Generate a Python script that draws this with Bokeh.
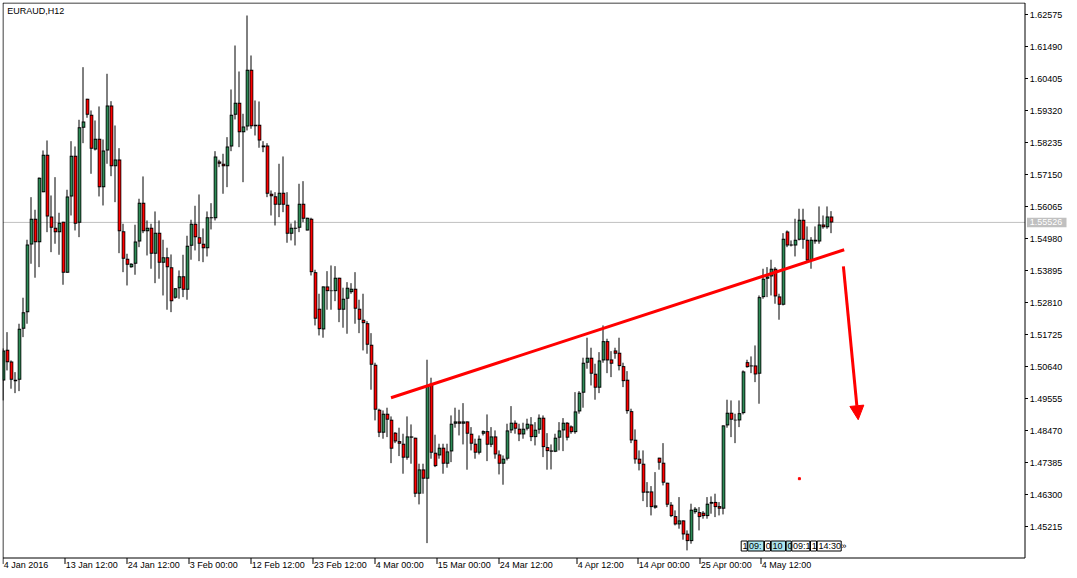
from bokeh.plotting import figure
from bokeh.models import ColumnDataSource, Range1d, Arrow, NormalHead
from bokeh.core.properties import value
from bokeh.embed import file_html
from bokeh.resources import INLINE

FONT = "Liberation Sans"

symbol_title = "EURAUD,H12"

opens = [1.50166, 1.51209, 1.50812, 1.50144, 1.50192, 1.51921, 1.52483, 1.54778, 1.55650, 1.54856,
         1.56551, 1.57819, 1.55728, 1.55345, 1.55195, 1.55548, 1.53819, 1.56406, 1.57785, 1.55514,
         1.58735, 1.59718, 1.59175, 1.57999, 1.58362, 1.56721, 1.57965, 1.59490, 1.57433, 1.57660,
         1.55229, 1.54294, 1.54009, 1.54124, 1.54880, 1.56192, 1.55229, 1.55345, 1.54463, 1.55175,
         1.54158, 1.54348, 1.54009, 1.52972, 1.53297, 1.53704, 1.53243, 1.54734, 1.55480, 1.55026,
         1.54802, 1.54653, 1.55670, 1.55670, 1.57592, 1.57514, 1.57433, 1.58101, 1.59175, 1.59582,
         1.58585, 1.58779, 1.60701, 1.58836, 1.58836, 1.58134, 1.58134, 1.56497, 1.56416, 1.56124,
         1.56531, 1.56124, 1.55141, 1.55311, 1.55345, 1.56158, 1.55253, 1.55650, 1.53839, 1.52599,
         1.51897, 1.53355, 1.53195, 1.53195, 1.53650, 1.52565, 1.52938, 1.53161, 1.53277, 1.52599,
         1.52226, 1.52110, 1.51378, 1.50700, 1.49175, 1.48395, 1.49039, 1.48836, 1.48395, 1.48110,
         1.48022, 1.47548, 1.48270, 1.48226, 1.46327, 1.47151, 1.46836, 1.50056, 1.47717, 1.47625,
         1.47887, 1.47344, 1.47761, 1.48700, 1.48778, 1.48700, 1.48778, 1.48361, 1.48022, 1.47717,
         1.48361, 1.48449, 1.47988, 1.48270, 1.47659, 1.47344, 1.47514, 1.48473, 1.48734, 1.48531,
         1.48337, 1.48531, 1.48676, 1.48246, 1.48497, 1.48904, 1.47907, 1.47795, 1.47751, 1.48226,
         1.48473, 1.48734, 1.48609, 1.48415, 1.49117, 1.49751, 1.50768, 1.50938, 1.50395, 1.49921,
         1.50846, 1.51500, 1.50880, 1.51185, 1.51107, 1.50653, 1.50192, 1.49127, 1.48158, 1.47514,
         1.47344, 1.46405, 1.46405, 1.45853, 1.47548, 1.47378, 1.46700, 1.45954, 1.45568, 1.45286,
         1.45422, 1.44971, 1.44720, 1.45703, 1.45703, 1.45683, 1.45568, 1.45988, 1.46049, 1.45907,
         1.45819, 1.48643, 1.49073, 1.48812, 1.48812, 1.49059, 1.50788, 1.50643, 1.50676, 1.50395,
         1.52992, 1.53616, 1.53694, 1.53955, 1.53016, 1.52734, 1.55219, 1.54778, 1.54744, 1.54938,
         1.55616, 1.54938, 1.54236, 1.54938, 1.54880, 1.55456, 1.55365, 1.55728]

highs = [1.51253, 1.51805, 1.50846, 1.50449, 1.52090, 1.52972, 1.54938, 1.56382, 1.55955, 1.57050,
         1.57965, 1.58304, 1.56439, 1.57060, 1.55853, 1.55548, 1.56633, 1.58280, 1.58101, 1.59006,
         1.60789, 1.59718, 1.59321, 1.58982, 1.59457, 1.58338, 1.60565, 1.59636, 1.58812, 1.58043,
         1.55480, 1.54463, 1.54144, 1.55446, 1.56328, 1.57084, 1.55592, 1.55480, 1.55897, 1.55592,
         1.54938, 1.54667, 1.54439, 1.53297, 1.53897, 1.54429, 1.55073, 1.55616, 1.56090, 1.56473,
         1.55321, 1.55897, 1.56178, 1.57941, 1.57650, 1.57853, 1.58416, 1.60033, 1.61524, 1.60643,
         1.59209, 1.62541, 1.61185, 1.59660, 1.59626, 1.58280, 1.58212, 1.56609, 1.56551, 1.57514,
         1.57762, 1.56551, 1.55490, 1.55592, 1.56836, 1.56924, 1.55684, 1.55684, 1.53921, 1.53107,
         1.53355, 1.53873, 1.54066, 1.54043, 1.53650, 1.53311, 1.53500, 1.53466, 1.53839, 1.52904,
         1.53107, 1.52178, 1.51771, 1.50768, 1.49209, 1.49151, 1.49243, 1.48948, 1.48415, 1.48565,
         1.48361, 1.48948, 1.48676, 1.48226, 1.47344, 1.47344, 1.50870, 1.50260, 1.48327, 1.48022,
         1.48022, 1.48022, 1.48981, 1.49243, 1.49175, 1.49398, 1.48778, 1.48585, 1.48192, 1.48303,
         1.48473, 1.49015, 1.48585, 1.48473, 1.47795, 1.47625, 1.48700, 1.49297, 1.48812, 1.48700,
         1.48734, 1.48870, 1.48924, 1.48754, 1.49015, 1.48981, 1.48381, 1.47998, 1.48361, 1.48754,
         1.48890, 1.48754, 1.48643, 1.49771, 1.49805, 1.50938, 1.51616, 1.51277, 1.50734, 1.51127,
         1.52032, 1.51582, 1.51161, 1.51277, 1.51616, 1.50768, 1.50483, 1.49209, 1.48507, 1.47795,
         1.47795, 1.46720, 1.46585, 1.47059, 1.47548, 1.48042, 1.46700, 1.46042, 1.45761, 1.46212,
         1.45422, 1.45083, 1.45988, 1.45873, 1.45873, 1.45737, 1.46212, 1.46236, 1.46327, 1.46042,
         1.48643, 1.49514, 1.49490, 1.49039, 1.49490, 1.50507, 1.50870, 1.50982, 1.51354, 1.53049,
         1.53955, 1.54009, 1.54260, 1.54009, 1.53107, 1.55161, 1.55253, 1.54914, 1.55650, 1.55989,
         1.55989, 1.55389, 1.55026, 1.55389, 1.56067, 1.55761, 1.56067, 1.55907]

lows = [1.49490, 1.50507, 1.49887, 1.49737, 1.49805, 1.51636, 1.52090, 1.54124, 1.53650, 1.54009,
        1.56551, 1.55195, 1.54517, 1.54802, 1.54429, 1.53412, 1.53819, 1.55761, 1.55253, 1.55026,
        1.58212, 1.59074, 1.57175, 1.57965, 1.56406, 1.56100, 1.57514, 1.57094, 1.56212, 1.54483,
        1.53839, 1.53388, 1.53989, 1.53751, 1.54687, 1.55161, 1.54405, 1.53955, 1.53466, 1.53616,
        1.53049, 1.52565, 1.52483, 1.52938, 1.52938, 1.52992, 1.52904, 1.54260, 1.54575, 1.54212,
        1.54178, 1.54372, 1.55287, 1.55592, 1.57399, 1.56497, 1.56721, 1.57941, 1.59016, 1.58077,
        1.56890, 1.58643, 1.58701, 1.58473, 1.58057, 1.57907, 1.56382, 1.55761, 1.55422, 1.55704,
        1.55873, 1.54836, 1.54914, 1.54744, 1.55195, 1.55534, 1.55253, 1.53727, 1.52032, 1.51693,
        1.51616, 1.52565, 1.52565, 1.52856, 1.52144, 1.51955, 1.51751, 1.53107, 1.52090, 1.51771,
        1.51185, 1.51073, 1.49853, 1.48812, 1.48246, 1.48192, 1.48246, 1.47364, 1.48042, 1.47602,
        1.47005, 1.47480, 1.47344, 1.46212, 1.45964, 1.46327, 1.44652, 1.47514, 1.47229, 1.47514,
        1.47005, 1.47209, 1.47398, 1.48565, 1.48303, 1.47998, 1.47141, 1.47795, 1.47514, 1.47659,
        1.48303, 1.47432, 1.47907, 1.47514, 1.46981, 1.46632, 1.47456, 1.48381, 1.48361, 1.48110,
        1.48192, 1.48473, 1.48110, 1.47964, 1.48361, 1.47568, 1.47141, 1.47151, 1.47737, 1.47795,
        1.47771, 1.48134, 1.48361, 1.48361, 1.49039, 1.49243, 1.50565, 1.49998, 1.49514, 1.49737,
        1.50768, 1.50415, 1.50280, 1.50904, 1.50507, 1.49941, 1.49039, 1.48042, 1.47344, 1.47117,
        1.46076, 1.45873, 1.45591, 1.45819, 1.47141, 1.46608, 1.45873, 1.45534, 1.45252, 1.45141,
        1.44768, 1.44405, 1.44632, 1.45649, 1.45083, 1.45480, 1.45480, 1.45649, 1.45534, 1.45591,
        1.45625, 1.48565, 1.48246, 1.48042, 1.48585, 1.49015, 1.50599, 1.50415, 1.50110, 1.49378,
        1.52938, 1.52992, 1.53049, 1.52768, 1.52226, 1.52710, 1.54687, 1.54711, 1.54372, 1.54914,
        1.54633, 1.54178, 1.53955, 1.54802, 1.54802, 1.55311, 1.55311, 1.55161]

closes = [1.51185, 1.50788, 1.50192, 1.50192, 1.51921, 1.52483, 1.54778, 1.55650, 1.54856, 1.57040,
          1.57819, 1.55728, 1.55345, 1.55195, 1.55514, 1.53819, 1.56406, 1.57785, 1.55480, 1.58755,
          1.58948, 1.59175, 1.58023, 1.58362, 1.56721, 1.57965, 1.59490, 1.57433, 1.57660, 1.55229,
          1.54294, 1.54090, 1.54124, 1.54880, 1.56192, 1.55229, 1.55345, 1.54463, 1.55175, 1.54158,
          1.54348, 1.54009, 1.52856, 1.53297, 1.53704, 1.53243, 1.54734, 1.55480, 1.55026, 1.54802,
          1.54653, 1.55704, 1.55704, 1.57762, 1.57514, 1.57433, 1.58101, 1.59175, 1.59582, 1.58585,
          1.58779, 1.60701, 1.58789, 1.58789, 1.58304, 1.58077, 1.56497, 1.56416, 1.56124, 1.56531,
          1.56124, 1.55141, 1.55345, 1.55345, 1.56158, 1.55650, 1.55684, 1.53839, 1.52260, 1.51907,
          1.53355, 1.53195, 1.53219, 1.53650, 1.52565, 1.52938, 1.53311, 1.53277, 1.52599, 1.52226,
          1.52110, 1.51378, 1.50700, 1.49175, 1.48395, 1.49039, 1.48836, 1.47853, 1.48100, 1.48022,
          1.47548, 1.48270, 1.48226, 1.46327, 1.47151, 1.46836, 1.49998, 1.47717, 1.47263, 1.47887,
          1.47344, 1.47761, 1.48700, 1.48778, 1.48700, 1.48778, 1.48361, 1.48022, 1.47717, 1.48192,
          1.48449, 1.47988, 1.48270, 1.47659, 1.47344, 1.47514, 1.48473, 1.48734, 1.48531, 1.48337,
          1.48531, 1.48700, 1.48246, 1.48497, 1.48904, 1.47907, 1.47771, 1.47751, 1.48226, 1.48473,
          1.48734, 1.48226, 1.48415, 1.49117, 1.49751, 1.50768, 1.50938, 1.50395, 1.49921, 1.50846,
          1.51500, 1.50846, 1.50734, 1.51073, 1.50653, 1.50144, 1.49127, 1.48134, 1.47490, 1.47344,
          1.46361, 1.46361, 1.45873, 1.45930, 1.47378, 1.46700, 1.45954, 1.45568, 1.45286, 1.45422,
          1.44947, 1.44720, 1.45785, 1.45819, 1.45534, 1.45568, 1.45988, 1.46049, 1.45873, 1.45819,
          1.48643, 1.49073, 1.48836, 1.48836, 1.49059, 1.50473, 1.50619, 1.50676, 1.50371, 1.52992,
          1.53616, 1.53694, 1.53955, 1.53016, 1.52734, 1.54972, 1.54744, 1.54744, 1.54938, 1.55616,
          1.54938, 1.54236, 1.54938, 1.54880, 1.55456, 1.55365, 1.55728, 1.55526]

bid_price = 1.55526

price_ticks = [1.45215, 1.46300, 1.47385, 1.48470, 1.49555, 1.50640, 1.51725, 1.52810, 1.53895,
               1.54980, 1.56065, 1.57150, 1.58235, 1.59320, 1.60405, 1.61490, 1.62575]

time_tick_bars = [0, 15.5, 31, 46.5, 62, 77.5, 93, 108.5, 124, 143.5, 158.75, 174.25, 189.5]
time_tick_labels = ["4 Jan 2016", "13 Jan 12:00", "24 Jan 12:00", "3 Feb 00:00", "12 Feb 12:00",
                    "23 Feb 12:00", "4 Mar 00:00", "15 Mar 00:00", "24 Mar 12:00", "4 Apr 12:00",
                    "14 Apr 00:00", "25 Apr 00:00", "4 May 12:00"]

# drawn objects (bar index, price)
trend_bars = [97, 210.3]
trend_prices = [1.49582, 1.54599]
arrow_start = (210.1, 1.54033)
arrow_end = (213.8, 1.48836)
dot_bar = [199.1]
dot_price = [1.46836]

# event markers along the bottom (bar span, text, highlighted)
event_left = [184.55, 186.2, 190.375, 192.05, 195.8, 197.2, 201.875, 203.55]
event_right = [186.05, 190.2, 191.875, 195.625, 197.05, 201.7, 203.375, 209.55]
event_texts = ["1", "09:", "0", "10", "0", "09:1", "1", "14:30"]
event_hl = [False, True, False, True, True, False, False, False]

UP = "#2E8B57"
DOWN = "#FF0000"

# chart-area layout (bar units / prices)
X_MIN, X_MAX = -0.125, 267.375
Y_MIN, Y_MAX = 1.43520, 1.62982
PX = (Y_MAX - Y_MIN) / 574.0          # price per pixel
AREA_L, AREA_R = 0.0, 255.5
AREA_T, AREA_B = Y_MAX - 0.5 * PX, Y_MAX - 555.5 * PX

n = len(opens)
xs = list(range(n))
tops = [max(a, b) for a, b in zip(opens, closes)]
bots = [min(a, b) for a, b in zip(opens, closes)]
in_top, in_bot = [], []
for t, b in zip(tops, bots):
    if t - b > 2.2 * PX:
        in_top.append(t - PX)
        in_bot.append(b + PX)
    else:
        m = (t + b) / 2
        in_top.append(m)
        in_bot.append(m)
src = ColumnDataSource(dict(
    x=xs, bx=[v + 0.125 for v in xs], h=highs, l=lows, top=tops, bottom=bots,
    itop=in_top, ibot=in_bot,
    color=[UP if c >= o else DOWN for o, c in zip(opens, closes)],
))

p = figure(frame_width=1070, frame_height=574,
           x_range=Range1d(X_MIN, X_MAX), y_range=Range1d(Y_MIN, Y_MAX),
           output_backend="svg", toolbar_location=None,
           x_axis_location=None, y_axis_location=None,
           min_border_left=0, min_border_right=0, min_border_top=0, min_border_bottom=0)
p.styles = {"position": "absolute", "left": "2px", "top": "2px"}
p.background_fill_color = "white"
p.border_fill_color = "white"
p.outline_line_color = None
for g in p.grid:
    g.visible = False

# bid line
p.line([AREA_L, AREA_R], [bid_price, bid_price], line_color="#C0C0C0", line_width=1)

# candles: wick, black body outline, coloured body core
p.segment(x0="x", y0="l", x1="x", y1="h", source=src, line_color="black", line_width=1)
p.vbar(x="bx", width=0.9, top="top", bottom="bottom", source=src,
       fill_color="black", line_color=None)
p.vbar(x="bx", width=0.5, top="itop", bottom="ibot", source=src,
       fill_color="color", line_color=None)

# hand-drawn objects
p.line(trend_bars, trend_prices, line_color="#FF0000", line_width=3)
p.add_layout(Arrow(x_start=arrow_start[0], y_start=arrow_start[1], x_end=arrow_end[0], y_end=arrow_end[1],
                   line_color="#FF0000", line_width=3,
                   end=NormalHead(size=14, fill_color="#FF0000", line_color="#FF0000")))
p.scatter(dot_bar, dot_price, marker="square", size=2, color="#FF0000")

# event boxes
ev_top, ev_bot = Y_MAX - 538.5 * PX, Y_MAX - 548.5 * PX
p.quad(left=event_left, right=event_right, top=ev_top, bottom=ev_bot,
       fill_color=["#ADE6EE" if h else "white" for h in event_hl], line_color="black", line_width=1)
p.text(x=[l + 0.3 for l in event_left], y=[(ev_top + ev_bot) / 2] * len(event_left), text=event_texts,
       text_align="left", text_baseline="middle", text_font=value(FONT), text_font_size=value("9px"),
       text_color="black")
p.text(x=[event_right[-1] + 0.1], y=[(ev_top + ev_bot) / 2], text=["\u00bb"],
       text_align="left", text_baseline="middle", text_font=value(FONT), text_font_size=value("9px"),
       text_color="black")

# chart frame
p.line([AREA_L, AREA_R, AREA_R, AREA_L, AREA_L], [AREA_T, AREA_T, AREA_B, AREA_B, AREA_T],
       line_color="black", line_width=1)

# price scale (right)
p.segment(x0=[AREA_R] * len(price_ticks), y0=price_ticks, x1=[AREA_R + 0.75] * len(price_ticks),
          y1=price_ticks, line_color="black", line_width=1)
p.text(x=[AREA_R + 1.2] * len(price_ticks), y=price_ticks, text=["%.5f" % v for v in price_ticks],
       text_align="left", text_baseline="middle", text_font=value(FONT), text_font_size=value("9px"),
       text_color="black")
p.quad(left=[AREA_R + 0.5], right=[AREA_R + 10.375], top=[bid_price + 4.75 * PX],
       bottom=[bid_price - 4.75 * PX], fill_color="#C0C0C0", line_color=None)
p.text(x=[AREA_R + 1.2], y=[bid_price], text=["%.5f" % bid_price], text_align="left",
       text_baseline="middle", text_font=value(FONT), text_font_size=value("9px"), text_color="white")

# time scale (bottom)
p.segment(x0=time_tick_bars, y0=[AREA_B] * len(time_tick_bars), x1=time_tick_bars,
          y1=[AREA_B - 6 * PX] * len(time_tick_bars), line_color="black", line_width=1)
p.text(x=[b + 0.2 for b in time_tick_bars], y=[AREA_B - 2 * PX] * len(time_tick_bars),
       text=time_tick_labels, text_align="left", text_baseline="top", text_font=value(FONT),
       text_font_size=value("9px"), text_color="black")

# symbol / period caption
p.text(x=[1.05], y=[Y_MAX - 3 * PX], text=[symbol_title], text_align="left", text_baseline="top",
       text_font=value(FONT), text_font_size=value("9px"), text_color="black")

open("out.html", "w").write(file_html(p, INLINE))
